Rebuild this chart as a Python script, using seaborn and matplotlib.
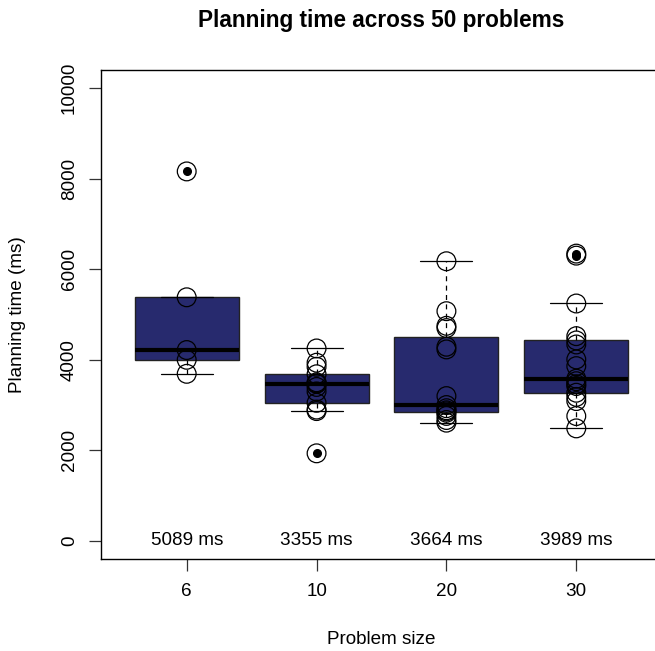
import numpy as np
import pandas as pd
import matplotlib
matplotlib.use("Agg")
import matplotlib.pyplot as plt
import seaborn as sns

# ---- data ----
sizes = ["6", "10", "20", "30"]
times_6 = [3690, 4000, 4215, 5380, 8160]
times_10 = [1934, 2867, 2900, 3050, 3300, 3400, 3470, 3480, 3503, 3680, 3846, 3935, 4250]
times_20 = [2611, 2670, 2760, 2830, 2860, 2885, 2930, 3000, 3198, 4229, 4288, 4700, 4750, 5073, 6176]
times_30 = [2485, 2757, 3088, 3180, 3272, 3420, 3460, 3527, 3581, 3860, 4008, 4338, 4427, 4522,
            5243, 6300, 6345]
y_ticks = [0, 2000, 4000, 6000, 8000, 10000]

groups = [times_6, times_10, times_20, times_30]
df = pd.DataFrame({
    "size": np.concatenate([[s] * len(g) for s, g in zip(sizes, groups)]),
    "time": np.concatenate(groups),
})
mean_labels = [f"{np.mean(g):.0f} ms" for g in groups]

sns.set_style("ticks")
plt.rcParams["font.family"] = ["Liberation Sans", "DejaVu Sans"]
plt.rcParams["text.color"] = "black"
plt.rcParams["axes.labelcolor"] = "black"
plt.rcParams["xtick.color"] = "black"
plt.rcParams["ytick.color"] = "black"

W, H = 655, 651
fig = plt.figure(figsize=(W / 100, H / 100), dpi=100)
L, R, T, B = 101, 662, 70, 559
ax = fig.add_axes([L / W, 1 - B / H, (R - L) / W, (B - T) / H])

box_color = "#272A6E"
sns.boxplot(data=df, x="size", y="time", order=sizes, ax=ax,
            color=box_color, saturation=1, width=0.8, whis=1.5,
            linecolor="#222222", linewidth=1.0,
            medianprops={"color": "black", "linewidth": 3.0},
            whiskerprops={"color": "black", "linewidth": 0.9, "linestyle": (0, (4, 3.5))},
            capprops={"color": "black", "linewidth": 0.9},
            flierprops={"marker": "o", "markerfacecolor": "black",
                        "markeredgecolor": "black", "markersize": 5.5})

sns.stripplot(data=df, x="size", y="time", order=sizes, ax=ax,
              jitter=False, marker="o", size=13.5, linewidth=0.9,
              edgecolor="black", facecolors="none", zorder=4)
for coll in ax.collections:
    coll.set_facecolor("none")
    coll.set_edgecolor("black")
    coll.set_linewidth(0.9)
    coll.set_zorder(4)

for i, lab in enumerate(mean_labels):
    ax.text(i, 0, lab, ha="center", va="center", fontsize=13.6, color="black", zorder=5)

ax.set_xlim(-0.66, 3.66)
ax.set_ylim(-400, 10400)
ax.set_yticks(y_ticks)
ax.set_yticklabels([str(v) for v in y_ticks], rotation=90, va="center")
ax.set_xticks(range(len(sizes)))
ax.set_xticklabels(sizes)
ax.set_xlabel("")
ax.set_ylabel("")
for s in ax.spines.values():
    s.set_visible(True)
    s.set_color("black")
    s.set_linewidth(1.0)
ax.tick_params(axis="both", direction="out", length=8.6, width=0.9, color="#333333",
               labelsize=13.6, labelcolor="black")
ax.tick_params(axis="y", pad=8)
ax.tick_params(axis="x", pad=9)
ax.grid(False)

cx = (L + R) / 2 / W
fig.text(cx, 1 - 20 / H, "Planning time across 50 problems", ha="center", va="center",
         fontsize=16.3, fontweight="bold", color="black")
fig.text(cx, 1 - 640 / H, "Problem size", ha="center", va="center", fontsize=13.6,
         color="black")
fig.text(18 / W, 1 - ((T + B) / 2) / H, "Planning time (ms)", ha="center", va="center",
         rotation=90, fontsize=13.6, color="black")

fig.savefig("out.png", dpi=100)
